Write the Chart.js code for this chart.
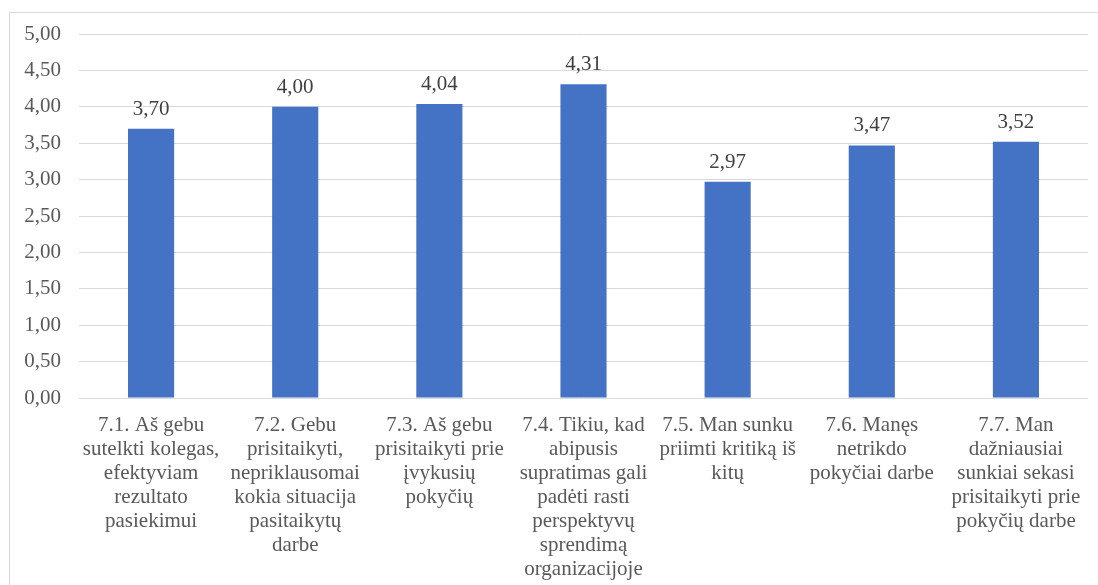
<!DOCTYPE html>
<html lang="lt">
<head>
<meta charset="utf-8">
<title>Prisitaikymas prie pokyčių</title>
<script src="https://cdn.jsdelivr.net/npm/chart.js@4/dist/chart.umd.min.js"></script>
<style>
  html, body { margin: 0; padding: 0; background: #fff; overflow: hidden; }
  #wrap { position: relative; width: 1098px; height: 585px; }
  #frame {
    position: absolute; left: 9px; top: 12px; width: 1200px; height: 700px;
    border: 1px solid #d9d9d9; box-sizing: border-box;
  }
  #chart { position: absolute; left: 0; top: 0; }
</style>
</head>
<body>
<div id="wrap">
  <div id="frame"></div>
  <canvas id="chart" width="1098" height="585"></canvas>
</div>
<script>
(function () {
  'use strict';

  // statement labels, wrapped the way they appear under each bar
  var categories = [
    ['7.1. Aš gebu', 'sutelkti kolegas,', 'efektyviam', 'rezultato', 'pasiekimui'],
    ['7.2. Gebu', 'prisitaikyti,', 'nepriklausomai', 'kokia situacija', 'pasitaikytų', 'darbe'],
    ['7.3. Aš gebu', 'prisitaikyti prie', 'įvykusių', 'pokyčių'],
    ['7.4. Tikiu, kad', 'abipusis', 'supratimas gali', 'padėti rasti', 'perspektyvų', 'sprendimą', 'organizacijoje'],
    ['7.5. Man sunku', 'priimti kritiką iš', 'kitų'],
    ['7.6. Manęs', 'netrikdo', 'pokyčiai darbe'],
    ['7.7. Man', 'dažniausiai', 'sunkiai sekasi', 'prisitaikyti prie', 'pokyčių darbe']
  ];

  // mean scores
  var means = [3.70, 4.00, 4.04, 4.31, 2.97, 3.47, 3.52];

  var yMin = 0;
  var yMax = 5;
  var yStep = 0.5;

  var serif = '"Liberation Serif", "Times New Roman", serif';

  function comma(v) {
    return Number(v).toFixed(2).replace('.', ',');
  }

  // value labels above the bars
  var valueLabels = {
    id: 'valueLabels',
    afterDatasetsDraw: function (chart) {
      var ctx = chart.ctx;
      var meta = chart.getDatasetMeta(0);
      ctx.save();
      ctx.font = '21px ' + serif;
      ctx.fillStyle = '#404040';
      ctx.textAlign = 'center';
      ctx.textBaseline = 'alphabetic';
      meta.data.forEach(function (bar, i) {
        ctx.fillText(comma(means[i]), bar.x, bar.y - 14);
      });
      ctx.restore();
    }
  };

  new Chart(document.getElementById('chart').getContext('2d'), {
    type: 'bar',
    data: {
      labels: categories,
      datasets: [{
        data: means,
        backgroundColor: '#4472c4',
        borderWidth: 0,
        categoryPercentage: 1,
        barPercentage: 0.32
      }]
    },
    options: {
      responsive: false,
      animation: false,
      events: [],
      layout: { padding: { top: 34, right: 10, left: 0, bottom: 0 } },
      plugins: {
        legend: { display: false },
        tooltip: { enabled: false }
      },
      scales: {
        x: {
          grid: { display: false },
          border: { display: false },
          afterFit: function (scale) { scale.height = 187; },
          ticks: {
            autoSkip: false,
            maxRotation: 0,
            minRotation: 0,
            padding: 7,
            color: '#595959',
            font: { family: serif, size: 21, lineHeight: 1.143 }
          }
        },
        y: {
          min: yMin,
          max: yMax,
          afterFit: function (scale) { scale.width = 79; },
          border: { display: false },
          grid: { color: '#d9d9d9', lineWidth: 1, drawTicks: false },
          ticks: {
            stepSize: yStep,
            padding: 18,
            color: '#595959',
            font: { family: serif, size: 21 },
            callback: function (v) { return comma(v); }
          }
        }
      }
    },
    plugins: [valueLabels]
  });
})();
</script>
</body>
</html>
